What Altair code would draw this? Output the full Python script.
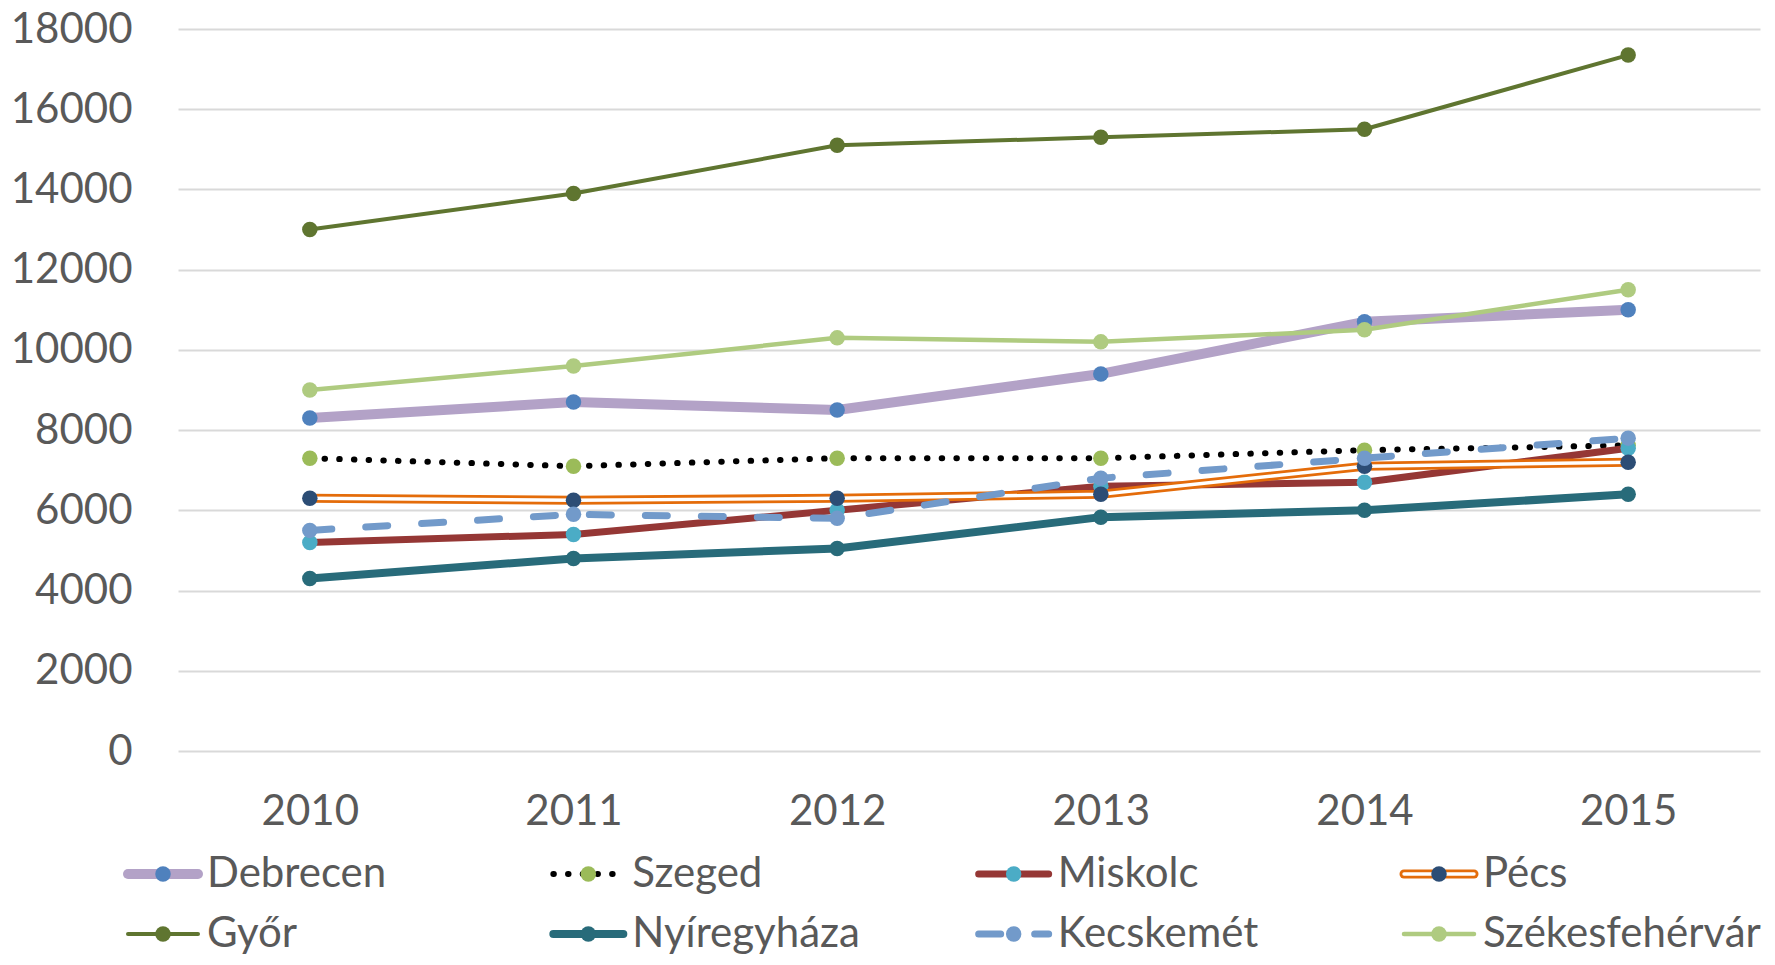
import altair as alt
import pandas as pd

# ---- data ----
years = [2010, 2011, 2012, 2013, 2014, 2015]
cities = ["Debrecen", "Szeged", "Miskolc", "Pécs",
          "Győr", "Nyíregyháza", "Kecskemét", "Székesfehérvár"]
debrecen = [8300, 8700, 8500, 9400, 10700, 11000]
szeged = [7300, 7100, 7300, 7300, 7500, 7620]
miskolc = [5200, 5400, 6000, 6600, 6700, 7550]
pecs = [6300, 6250, 6300, 6400, 7100, 7200]
gyor = [13000, 13900, 15100, 15300, 15500, 17350]
nyiregyhaza = [4300, 4800, 5050, 5830, 6000, 6400]
kecskemet = [5500, 5900, 5800, 6800, 7300, 7800]
szekesfehervar = [9000, 9600, 10300, 10200, 10500, 11500]
y_ticks = [0, 2000, 4000, 6000, 8000, 10000, 12000, 14000, 16000, 18000]

series = dict(zip(cities, [debrecen, szeged, miskolc, pecs, gyor,
                           nyiregyhaza, kecskemet, szekesfehervar]))

# ---- styles ----
FONT = "Lato"
TXT = "#595959"
GRID = "#D9D9D9"
style = {
    "Debrecen":       dict(line="#B3A2C7", w=10, dash=None, pt="#4F81BD"),
    "Szeged":         dict(line="#000000", w=6, dash=[0.5, 14.2], pt="#9BBB59"),
    "Miskolc":        dict(line="#953735", w=7, dash=None, pt="#4BACC6"),
    "Pécs":           dict(line="#E46C0A", w=9, dash=None, pt="#2C4D75", inner="#FFFFFF"),
    "Győr":           dict(line="#5F7530", w=4, dash=None, pt="#5F7530"),
    "Nyíregyháza":    dict(line="#286B7A", w=8, dash=None, pt="#286B7A"),
    "Kecskemét":      dict(line="#729ACA", w=7, dash=[22, 34], pt="#729ACA"),
    "Székesfehérvár": dict(line="#AFCB80", w=4.5, dash=None, pt="#AFCB80"),
}
PT_SIZE = 240

rows = []
for c in cities:
    for yr, v in zip(years, series[c]):
        rows.append({"city": c, "year": yr, "value": v})
df = pd.DataFrame(rows)

leg = pd.DataFrame({"city": cities,
                    "col": [i % 4 for i in range(len(cities))],
                    "row": [i // 4 for i in range(len(cities))]})

x_enc = alt.X("year:O",
              scale=alt.Scale(type="point", padding=0.5),
              axis=alt.Axis(title=None, labelAngle=0, labelFont=FONT, labelFontSize=42,
                            labelColor=TXT, labelPadding=40, domain=False, ticks=False,
                            grid=False))
y_enc = alt.Y("value:Q",
              scale=alt.Scale(domain=[0, 18000], nice=False, zero=True),
              axis=alt.Axis(title=None, values=y_ticks, format="d", labelFont=FONT,
                            labelFontSize=42, labelColor=TXT, labelPadding=46,
                            domain=False, ticks=False, gridColor=GRID, gridWidth=2))

base = alt.Chart(df)
main_layers = []
for c in cities:
    s = style[c]
    src = base.transform_filter(alt.datum.city == c)
    lkw = dict(color=s["line"], strokeWidth=s["w"], strokeCap="round", strokeJoin="round")
    if s["dash"]:
        lkw["strokeDash"] = s["dash"]
    main_layers.append(src.mark_line(**lkw).encode(x=x_enc, y=y_enc))
    if "inner" in s:
        main_layers.append(src.mark_line(color=s["inner"], strokeWidth=3.4,
                                         strokeJoin="round").encode(x=x_enc, y=y_enc))
    main_layers.append(src.mark_point(filled=True, shape="circle", size=PT_SIZE,
                                      color=s["pt"], opacity=1)
                       .encode(x=x_enc, y=y_enc))
main = alt.layer(*main_layers)

xl = alt.X("col:Q", scale=alt.Scale(domain=[0, 3], range=[-55, 1221]), axis=None)
yl = alt.Y("row:Q", scale=alt.Scale(domain=[0, 1], range=[845, 905]), axis=None)
lbase = alt.Chart(leg)
leg_layers = []
for c in cities:
    s = style[c]
    src = lbase.transform_filter(alt.datum.city == c)
    rkw = dict(color=s["line"], strokeWidth=s["w"], strokeCap="round",
               xOffset=5, x2Offset=75)
    if s["dash"]:
        rkw["strokeDash"] = s["dash"]
    leg_layers.append(src.mark_rule(**rkw).encode(x=xl, x2=alt.X2("col:Q"), y=yl))
    if "inner" in s:
        leg_layers.append(src.mark_rule(color=s["inner"], strokeWidth=3.4, strokeCap="round",
                                        xOffset=5, x2Offset=75)
                          .encode(x=xl, x2=alt.X2("col:Q"), y=yl))
    leg_layers.append(src.mark_point(filled=True, shape="circle", size=PT_SIZE,
                                     color=s["pt"], opacity=1, xOffset=40)
                      .encode(x=xl, y=yl))
leg_layers.append(lbase.mark_text(align="left", baseline="middle", dx=84, font=FONT,
                                  fontSize=42, color=TXT)
                  .encode(x=xl, y=yl, text="city:N"))
legend = alt.layer(*leg_layers)

chart = (alt.layer(main, legend)
         .resolve_scale(x="independent", y="independent")
         .properties(width=1582, height=722,
                     padding={"left": 170, "top": 21, "right": 7, "bottom": 206},
                     autosize=alt.AutoSizeParams(type="none"),
                     background="white")
         .configure_view(stroke=None))

chart.save("out.html", embed_options={"renderer": "svg", "actions": False})
